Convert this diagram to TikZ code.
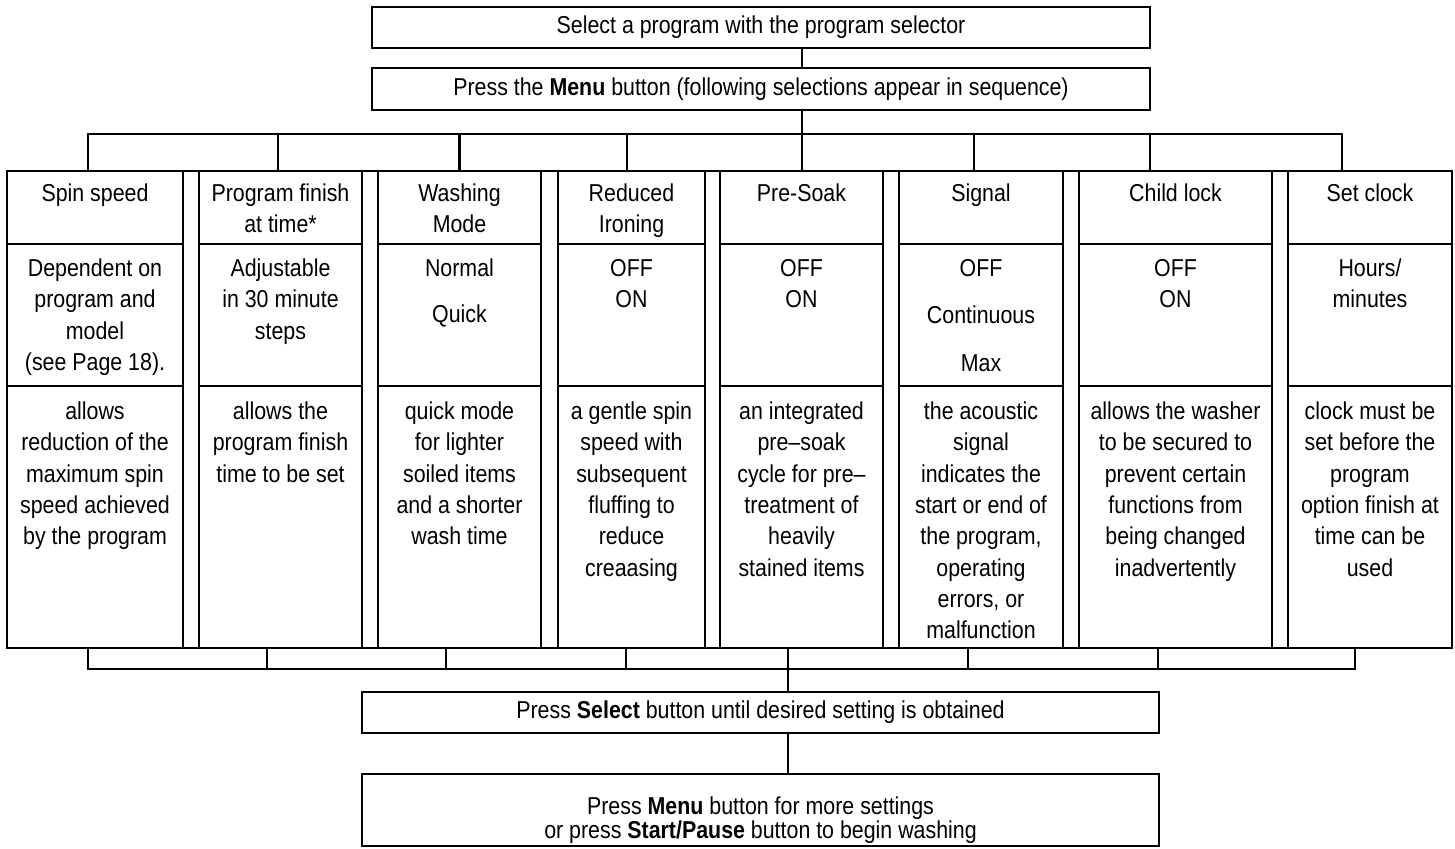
\documentclass[tikz,border=0pt]{standalone}
\usepackage{fontspec}
\setmainfont[FakeStretch=0.875]{Liberation Sans}
\usetikzlibrary{positioning,fit,calc}
\tikzset{
  figbase/.style={
    font=\fontsize{13.9}{17.8}\selectfont,
    line width=1.15pt,
    line cap=round,
  },
  wire/.style={line width=1.15pt},
  box/.style={draw, line width=1.15pt, inner sep=0pt, outer sep=0pt, align=center},
  cell/.style={draw, line width=1.15pt, inner sep=0pt, outer sep=0pt, anchor=north west},
  celltext/.style={inner sep=0pt, outer sep=0pt, align=center},
}

\begin{document}
\begin{tikzpicture}[figbase]
  \useasboundingbox (0,0) rectangle (29.1,-16.96);

  \node[box, minimum width=15.56cm, minimum height=0.82cm] (sel) at (15.22,-0.55)
    {Select a program with the program selector};
  \node[box, below=0.4cm of sel, minimum width=15.56cm, minimum height=0.84cm] (menu)
    {Press the \textbf{Menu} button (following selections appear in sequence)};

  % the eight columns: title, setting, description
  \foreach \i/\x/\w in {1/0.14/3.52, 2/3.98/3.26, 3/7.56/3.26, 4/11.16/2.94,
                        5/14.40/3.26, 6/17.98/3.28, 7/21.58/3.86, 8/25.76/3.28}{
    \node[cell, minimum width=\w*1cm, minimum height=1.46cm] (t\i) at (\x,-3.42) {};
    \node[cell, below=0pt of t\i.south west, anchor=north west,
          minimum width=\w*1cm, minimum height=2.84cm] (v\i) {};
    \node[cell, below=0pt of v\i.south west, anchor=north west,
          minimum width=\w*1cm, minimum height=5.24cm] (d\i) {};
  }
  \node[draw, line width=1.15pt, inner sep=0pt, fit=(t1)(d8)] (table) {};

  \node[celltext, below=0.26cm of t1.north] (tl1) {Spin speed};
  \node[celltext, below=0.26cm of t2.north] (tl2) {Program finish\\at time*};
  \node[celltext, below=0.26cm of t3.north] (tl3) {Washing\\Mode};
  \node[celltext, below=0.26cm of t4.north] (tl4) {Reduced\\Ironing};
  \node[celltext, below=0.26cm of t5.north] (tl5) {Pre-Soak};
  \node[celltext, below=0.26cm of t6.north] (tl6) {Signal};
  \node[celltext, below=0.26cm of t7.north] (tl7) {Child lock};
  \node[celltext, below=0.26cm of t8.north] (tl8) {Set clock};

  \node[celltext, below=0.3cm of v1.north] (vl1) {Dependent on\\program and\\model\\(see Page 18).};
  \node[celltext, below=0.3cm of v2.north] (vl2) {Adjustable\\in 30 minute\\steps};
  \node[celltext, below=0.3cm of v3.north] (vl3) {Normal\\[0.29cm]Quick};
  \node[celltext, below=0.3cm of v4.north] (vl4) {OFF\\ON};
  \node[celltext, below=0.3cm of v5.north] (vl5) {OFF\\ON};
  \node[celltext, below=0.3cm of v6.north] (vl6) {OFF\\[0.33cm]Continuous\\[0.33cm]Max};
  \node[celltext, below=0.3cm of v7.north] (vl7) {OFF\\ON};
  \node[celltext, below=0.3cm of v8.north] (vl8) {Hours/\\minutes};

  \node[celltext, below=0.32cm of d1.north] (dl1)
    {allows\\reduction of the\\maximum spin\\speed achieved\\by the program};
  \node[celltext, below=0.32cm of d2.north] (dl2)
    {allows the\\program finish\\time to be set};
  \node[celltext, below=0.32cm of d3.north] (dl3)
    {quick mode\\for lighter\\soiled items\\and a shorter\\wash time};
  \node[celltext, below=0.32cm of d4.north] (dl4)
    {a gentle spin\\speed with\\subsequent\\fluffing to\\reduce\\creaasing};
  \node[celltext, below=0.32cm of d5.north] (dl5)
    {an integrated\\pre–soak\\cycle for pre–\\treatment of\\heavily\\stained items};
  \node[celltext, below=0.32cm of d6.north] (dl6)
    {the acoustic\\signal\\indicates the\\start or end of\\the program,\\operating\\errors, or\\malfunction};
  \node[celltext, below=0.32cm of d7.north] (dl7)
    {allows the washer\\to be secured to\\prevent certain\\functions from\\being changed\\inadvertently};
  \node[celltext, below=0.32cm of d8.north] (dl8)
    {clock must be\\set before the\\program\\option finish at\\time can be\\used};

  \node[box, minimum width=15.94cm, minimum height=0.82cm] (pick) at (15.21,-14.25)
    {Press \textbf{Select} button until desired setting is obtained};
  \node[box, below=0.82cm of pick, minimum width=15.94cm, minimum height=1.44cm] (go) {};
  \node[celltext, below=0.46cm of go.north, font=\fontsize{13.9}{13.6}\selectfont] (gol)
    {Press \textbf{Menu} button for more settings\\or press \textbf{Start/Pause} button to begin washing};

  % branching lines above and below the columns
  \coordinate (topbus) at (0,-2.68);
  \coordinate (botbus) at (0,-13.38);
  \foreach \i/\a/\b in {1/0.46/0.46, 2/0.485/0.42, 3/0.50/0.42, 4/0.47/0.46,
                        5/0.50/0.42, 6/0.46/0.42, 7/0.37/0.41, 8/0.33/0.41}{
    \coordinate (up\i) at ($(t\i.north west)!\a!(t\i.north east)$);
    \coordinate (dn\i) at ($(d\i.south west)!\b!(d\i.south east)$);
    \draw[wire] (up\i |- topbus) -- (up\i);
    \draw[wire] (dn\i) -- (dn\i |- botbus);
  }
  \draw[wire] (up1 |- topbus) -- (up8 |- topbus);
  \draw[wire] (dn1 |- botbus) -- (dn8 |- botbus);

  \draw[wire] (sel.south -| up5) -- (menu.north -| up5);
  \draw[wire] (menu.south -| up5) -- (up5 |- topbus);
  \draw[wire] (dn5 |- botbus) -- (pick.north -| dn5);
  \draw[wire] (pick.south -| dn5) -- (go.north -| dn5);
\end{tikzpicture}
\end{document}
